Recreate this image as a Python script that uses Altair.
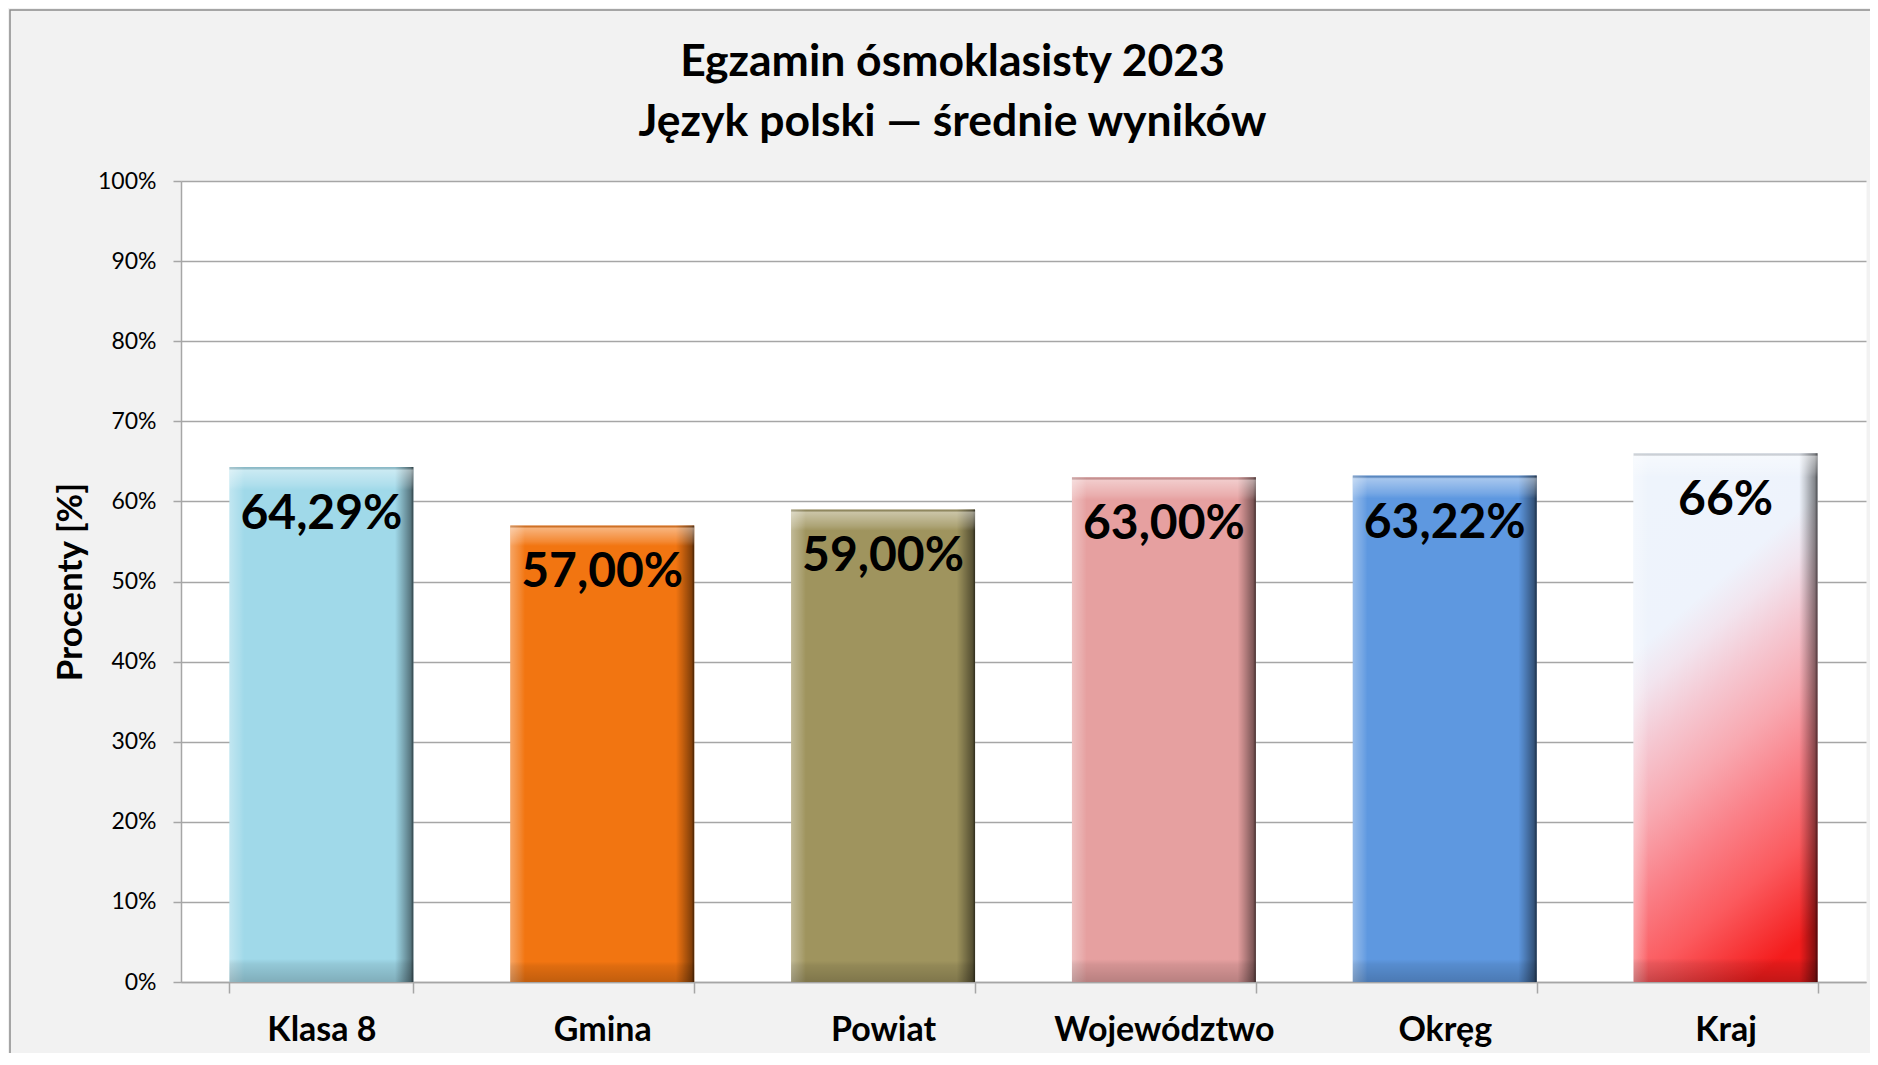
import altair as alt
import pandas as pd

categories = ["Klasa 8", "Gmina", "Powiat", "Województwo", "Okręg", "Kraj"]
values = [64.29, 57.00, 59.00, 63.00, 63.22, 66.0]
labels = ["64,29%", "57,00%", "59,00%", "63,00%", "63,22%", "66%"]
bar_colors = ["#a0d9e9", "#f27511", "#9f945e", "#e6a0a0", "#5e98e0", "#eef4fc"]
y_ticks = list(range(0, 101, 10))
title_lines = ["Egzamin ósmoklasisty 2023", "Język polski — średnie wyników"]

df = pd.DataFrame({"kat": categories, "wynik": values, "etykieta": labels})

W, H = 1685, 801
GRAY = "#a6a6a6"
FONT = "Lato"

x_enc = alt.X(
    "kat:N",
    sort=categories,
    scale=alt.Scale(paddingInner=0.345, paddingOuter=0.1725),
    axis=alt.Axis(
        title=None,
        labelAngle=0,
        labelFont=FONT,
        labelFontWeight="bold",
        labelFontSize=34,
        labelColor="#000000",
        labelBaseline="middle",
        labelPadding=37,
        labelLimit=0,
        tickBand="extent",
        tickSize=11,
        tickColor=GRAY,
        tickWidth=1.5,
        domainColor=GRAY,
        domainWidth=1.5,
    ),
)
y_enc = alt.Y(
    "wynik:Q",
    scale=alt.Scale(domain=[0, 100], nice=False),
    axis=alt.Axis(
        values=y_ticks,
        labelExpr="datum.value + '%'",
        title="Procenty [%]",
        titleFont=FONT,
        titleFontWeight="bold",
        titleFontSize=35,
        titleColor="#000000",
        titlePadding=9,
        labelFont=FONT,
        labelFontSize=23,
        labelColor="#000000",
        labelPadding=17,
        tickSize=8,
        tickColor=GRAY,
        tickWidth=1.5,
        domainColor=GRAY,
        domainWidth=1.5,
        grid=True,
        gridColor=GRAY,
        gridWidth=1.5,
    ),
)

base = alt.Chart(df).encode(x=x_enc, y=y_enc)

bars = base.mark_bar().encode(
    color=alt.Color(
        "kat:N",
        scale=alt.Scale(domain=categories, range=bar_colors),
        legend=None,
    )
)

kraj = base.transform_filter(alt.datum.kat == "Kraj").mark_bar(
    fill=alt.Gradient(
        gradient="linear",
        x1=0.35, y1=0, x2=0.65, y2=1,
        stops=[
            alt.GradientStop(color="#eef4fc", offset=0),
            alt.GradientStop(color="#eef3fc", offset=0.25),
            alt.GradientStop(color="#f2e4ee", offset=0.33),
            alt.GradientStop(color="#f5c8d2", offset=0.43),
            alt.GradientStop(color="#f8a8b0", offset=0.56),
            alt.GradientStop(color="#fa8088", offset=0.69),
            alt.GradientStop(color="#fb5a5e", offset=0.83),
            alt.GradientStop(color="#f41c1c", offset=1),
        ],
    )
)

side_shade = base.mark_bar(
    fill=alt.Gradient(
        gradient="linear",
        x1=0, y1=0, x2=1, y2=0,
        stops=[
            alt.GradientStop(color="rgba(255,255,255,0.35)", offset=0),
            alt.GradientStop(color="rgba(255,255,255,0.10)", offset=0.06),
            alt.GradientStop(color="rgba(255,255,255,0)", offset=0.08),
            alt.GradientStop(color="rgba(0,0,0,0)", offset=0.90),
            alt.GradientStop(color="rgba(0,0,0,0.15)", offset=0.93),
            alt.GradientStop(color="rgba(0,0,0,0.45)", offset=0.985),
            alt.GradientStop(color="rgba(0,0,0,0.7)", offset=1),
        ],
    )
)

top_shade = base.mark_bar(
    fill=alt.Gradient(
        gradient="linear",
        x1=0, y1=0, x2=0, y2=1,
        stops=[
            alt.GradientStop(color="rgba(0,0,0,0.12)", offset=0),
            alt.GradientStop(color="rgba(255,255,255,0.45)", offset=0.006),
            alt.GradientStop(color="rgba(255,255,255,0.15)", offset=0.035),
            alt.GradientStop(color="rgba(255,255,255,0)", offset=0.045),
            alt.GradientStop(color="rgba(0,0,0,0)", offset=0.955),
            alt.GradientStop(color="rgba(0,0,0,0.08)", offset=0.965),
            alt.GradientStop(color="rgba(0,0,0,0.2)", offset=1),
        ],
    )
)

text = base.mark_text(
    baseline="middle",
    dy=48,
    font=FONT,
    fontWeight="bold",
    fontSize=48,
    color="#000000",
).encode(text="etykieta:N")

frame = alt.Chart(pd.DataFrame({"f": [0]})).mark_rect(
    fill="#ffffff", fillOpacity=0, stroke="#8c8c8c", strokeWidth=1.5
).encode(
    x=alt.value(-171), x2=alt.value(W + 100),
    y=alt.value(-171), y2=alt.value(H + 200),
)

chart = (
    alt.layer(frame, bars, kraj, side_shade, top_shade, text)
    .properties(
        width=W,
        height=H,
        autosize=alt.AutoSizeParams(type="none"),
        padding={"left": 173, "top": 173, "right": 4, "bottom": 71},
        title=alt.TitleParams(
            text=title_lines,
            font=FONT,
            fontSize=44.5,
            fontWeight="bold",
            color="#000000",
            anchor="middle",
            dx=-71,
            dy=136,
            lineHeight=60,
            offset=0,
        ),
        background="#f2f2f2",
    )
    .configure_view(fill="#ffffff", stroke="transparent")
)

chart.save("out.html", embed_options={"renderer": "svg", "actions": False})
